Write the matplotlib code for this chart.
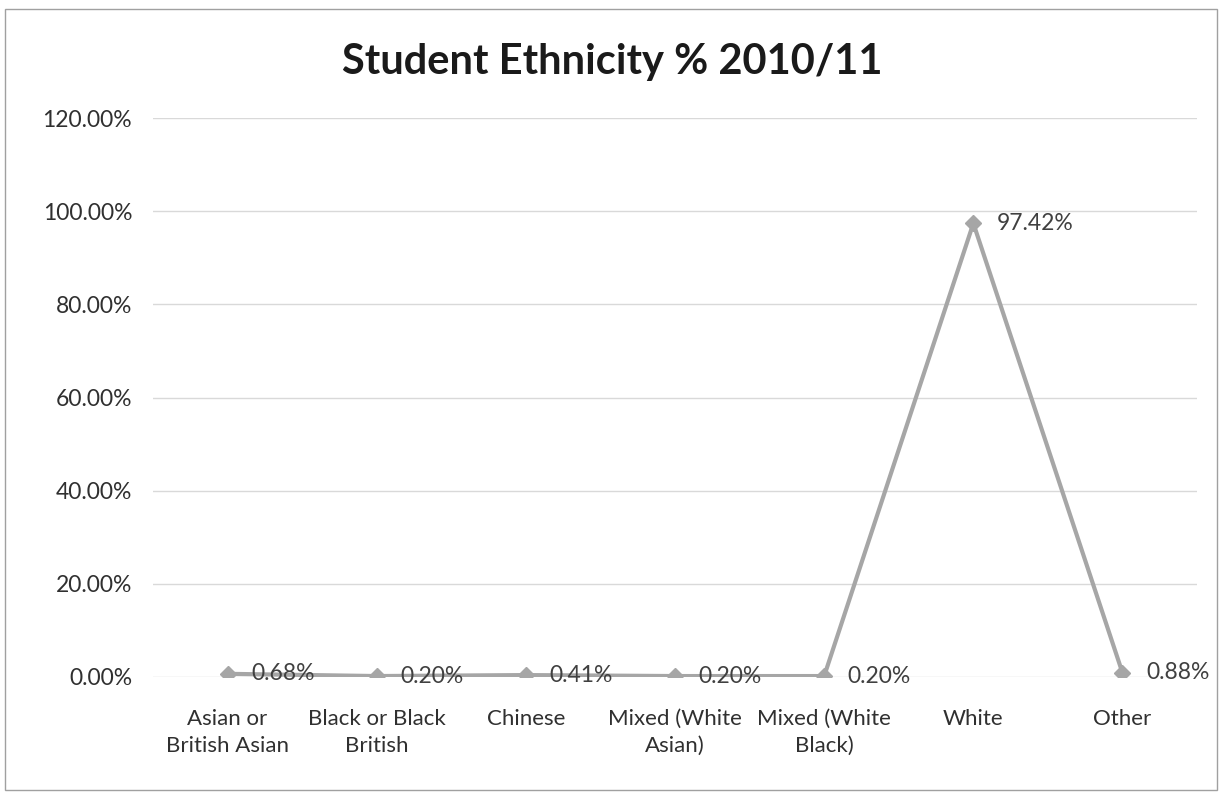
import matplotlib.pyplot as plt
from matplotlib.patches import Rectangle
from matplotlib.ticker import FuncFormatter

categories = ['Asian or\nBritish Asian', 'Black or Black\nBritish', 'Chinese',
              'Mixed (White\nAsian)', 'Mixed (White\nBlack)', 'White', 'Other']
percentages = [0.68, 0.20, 0.41, 0.20, 0.20, 97.42, 0.88]
yticks = [0, 20, 40, 60, 80, 100, 120]

plt.rcParams['font.family'] = ['Lato', 'DejaVu Sans']

fig = plt.figure(figsize=(12.24, 7.93), dpi=100)
ax = fig.add_axes([0.125, 0.1463, 0.853, 0.7047])

x = list(range(len(categories)))
ax.plot(x, percentages, color='#a6a6a6', linewidth=3, marker='D', markersize=8,
        markerfacecolor='#a6a6a6', markeredgecolor='#a6a6a6', zorder=3)

for xi, val in zip(x, percentages):
    ax.annotate('{:.2f}%'.format(val), (xi, val), xytext=(17, 0),
                textcoords='offset points', ha='left', va='center',
                fontsize=16.5, color='#404040', zorder=4)

ax.set_xlim(-0.5, len(categories) - 0.5)
ax.set_ylim(0, 120)
ax.set_yticks(yticks)
ax.yaxis.set_major_formatter(FuncFormatter(lambda v, p: '{:.2f}%'.format(v)))
ax.set_xticks(x)
ax.set_xticklabels(categories, fontsize=16, color='#303030', linespacing=1.45)
ax.tick_params(axis='y', labelsize=16.5, labelcolor='#303030', length=0, pad=15)
ax.tick_params(axis='x', length=0, pad=23)
ax.grid(axis='y', color='#d9d9d9', linewidth=1)
ax.set_axisbelow(True)
for s in ax.spines.values():
    s.set_visible(False)

fig.text(0.5, 0.922, 'Student Ethnicity % 2010/11', ha='center', va='center',
         fontsize=30, fontweight='bold', color='#1a1a1a')

fig.patches.append(Rectangle((0.004, 0.004), 0.99, 0.985, transform=fig.transFigure,
                             fill=False, edgecolor='#a0a0a0', linewidth=1))

fig.savefig('out.png', dpi=100)
